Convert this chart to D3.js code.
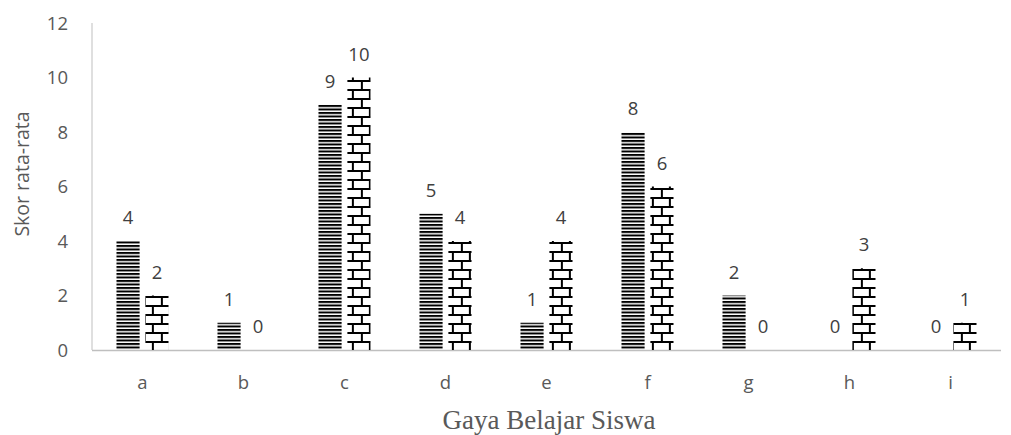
<!DOCTYPE html>
<html>
<head>
<meta charset="utf-8">
<script src="https://cdn.jsdelivr.net/npm/d3@7"></script>
<style>
  body { margin: 0; background: #fff; }
</style>
</head>
<body>
<svg></svg>
<script>
const categories = ["a", "b", "c", "d", "e", "f", "g", "h", "i"]
const series1 = [4, 1, 9, 5, 1, 8, 2, 0, 0]
const series2 = [2, 0, 10, 4, 4, 6, 0, 3, 1]
const yTicks = [0, 2, 4, 6, 8, 10, 12]

const width = 1011
const height = 435
const margin = {left: 92, top: 23, right: 10, bottom: 85}
const sans = "'Open Sans', 'Liberation Sans', sans-serif"

let svg = d3.select("svg")
    .attr("width", width)
    .attr("height", height)

let x = d3.scaleBand()
    .domain(categories)
    .range([margin.left, width - margin.right])
    .paddingInner(0.485)
    .paddingOuter(0.2425)

let xInner = d3.scaleBand()
    .domain([0, 1])
    .range([0, x.bandwidth()])
    .paddingInner(0.2)

let y = d3.scaleLinear()
    .domain([0, 12])
    .range([height - margin.bottom, margin.top])

let rows = categories.map((c, i) => ({cat: c, i: i, v: [series1[i], series2[i]]}))

let defs = svg.append("defs")

// horizontal stripes
let stripes = defs.append("pattern")
    .attr("id", "stripes")
    .attr("patternUnits", "userSpaceOnUse")
    .attr("width", 8)
    .attr("height", 3.5)
    .attr("y", y(0))
stripes.append("rect")
    .attr("width", 8).attr("height", 2)
    .attr("fill", "#000")

// brick pattern, one per bar so the bricks line up with each bar
let bricks = defs.selectAll("pattern.brick")
    .data(rows)
    .enter()
    .append("pattern")
    .attr("class", "brick")
    .attr("id", d => "brick" + d.i)
    .attr("patternUnits", "userSpaceOnUse")
    .attr("width", 17)
    .attr("height", 18)
    .attr("x", d => x(d.cat) + xInner(1) + 1)
    .attr("y", y(0))
bricks.append("rect").attr("x", 0).attr("y", 0).attr("width", 17).attr("height", 2)
bricks.append("rect").attr("x", 0).attr("y", 9).attr("width", 17).attr("height", 2)
bricks.append("rect").attr("x", 0).attr("y", 0).attr("width", 2).attr("height", 10)
bricks.append("rect").attr("x", 8).attr("y", 9).attr("width", 2).attr("height", 10)
bricks.selectAll("rect").attr("fill", "#000")

// y tick labels (no grid, no tick marks)
svg.append("g")
    .selectAll("text")
    .data(yTicks)
    .enter()
    .append("text")
    .attr("x", 68)
    .attr("y", d => y(d))
    .attr("dy", "0.36em")
    .attr("text-anchor", "end")
    .style("font-family", sans)
    .style("font-size", "18.5px")
    .attr("fill", "#595959")
    .text(d => d)

// axis lines
svg.append("line")
    .attr("x1", margin.left).attr("x2", margin.left)
    .attr("y1", y(12)).attr("y2", y(0))
    .attr("stroke", "#bfbfbf").attr("stroke-width", 1)
svg.append("line")
    .attr("x1", margin.left).attr("x2", width - margin.right)
    .attr("y1", y(0) + 0.5).attr("y2", y(0) + 0.5)
    .attr("stroke", "#bfbfbf").attr("stroke-width", 1.5)

// bars
let groups = svg.append("g")
    .selectAll("g")
    .data(rows)
    .enter()
    .append("g")
    .attr("transform", d => "translate(" + x(d.cat) + ",0)")

groups.selectAll("rect")
    .data(d => d.v.map((v, k) => ({v: v, k: k, i: d.i})))
    .enter()
    .append("rect")
    .attr("x", d => xInner(d.k))
    .attr("y", d => y(d.v))
    .attr("width", xInner.bandwidth())
    .attr("height", d => y(0) - y(d.v))
    .attr("fill", d => d.k == 0 ? "url(#stripes)" : "url(#brick" + d.i + ")")

// data labels
groups.selectAll("text")
    .data(d => d.v.map((v, k) => ({v: v, k: k})))
    .enter()
    .append("text")
    .attr("x", d => xInner(d.k) + xInner.bandwidth() / 2)
    .attr("y", d => y(d.v) - 17)
    .attr("text-anchor", "middle")
    .style("font-family", sans)
    .style("font-size", "18.5px")
    .attr("fill", "#404040")
    .text(d => d.v)

// category labels
svg.append("g")
    .selectAll("text")
    .data(categories)
    .enter()
    .append("text")
    .attr("x", d => x(d) + x.bandwidth() / 2)
    .attr("y", 389)
    .attr("text-anchor", "middle")
    .style("font-family", sans)
    .style("font-size", "18.5px")
    .attr("fill", "#595959")
    .text(d => d)

// axis titles
svg.append("text")
    .attr("transform", "translate(29,174) rotate(-90)")
    .attr("text-anchor", "middle")
    .style("font-family", sans)
    .style("font-size", "19.5px")
    .attr("fill", "#595959")
    .text("Skor rata-rata")

svg.append("text")
    .attr("x", 549)
    .attr("y", 429)
    .attr("text-anchor", "middle")
    .style("font-family", "'Liberation Serif', 'Times New Roman', serif")
    .style("font-size", "27px")
    .attr("fill", "#595959")
    .text("Gaya Belajar Siswa")
</script>
</body>
</html>
